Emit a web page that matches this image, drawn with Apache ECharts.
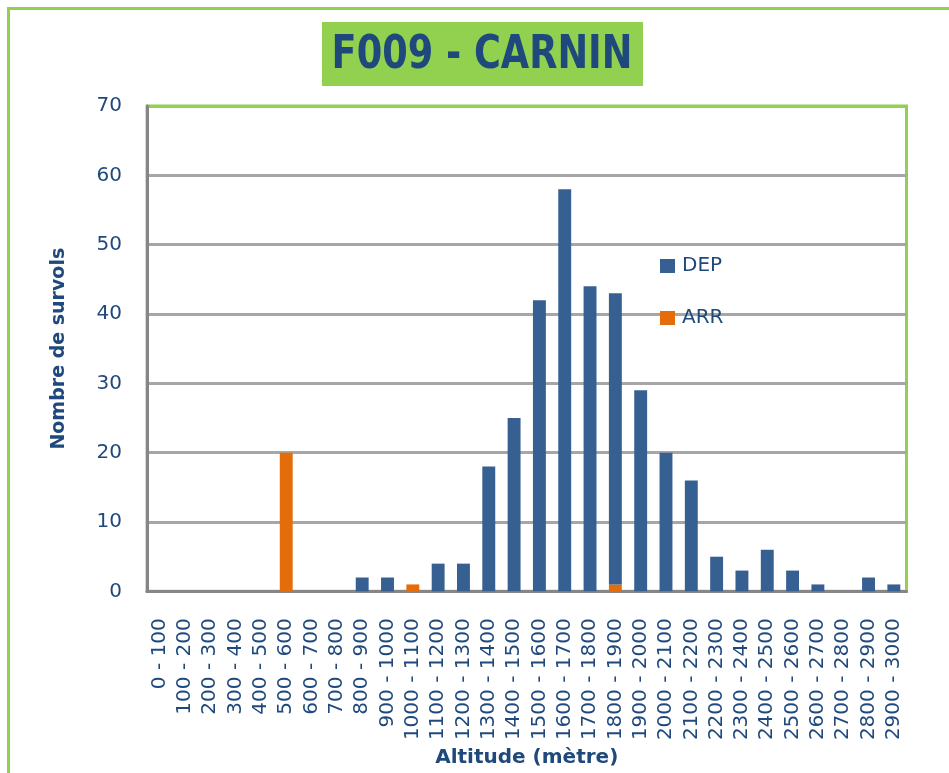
<!DOCTYPE html>
<html>
<head>
<meta charset="utf-8">
<title>F009 - CARNIN</title>
<script src="https://cdn.jsdelivr.net/npm/echarts@6/dist/echarts.min.js"></script>
<style>
  html, body {
    margin: 0;
    padding: 0;
    background: #ffffff;
  }

  #chart {
    width: 949px;
    height: 773px;
  }
</style>
</head>
<body>
<div id="chart"></div>

<script>
// tranches d'altitude
const categories = [
  "0 - 100", "100 - 200", "200 - 300", "300 - 400", "400 - 500",
  "500 - 600", "600 - 700", "700 - 800", "800 - 900", "900 - 1000",
  "1000 - 1100", "1100 - 1200", "1200 - 1300", "1300 - 1400", "1400 - 1500",
  "1500 - 1600", "1600 - 1700", "1700 - 1800", "1800 - 1900", "1900 - 2000",
  "2000 - 2100", "2100 - 2200", "2200 - 2300", "2300 - 2400", "2400 - 2500",
  "2500 - 2600", "2600 - 2700", "2700 - 2800", "2800 - 2900", "2900 - 3000",
];

// départs (empilés au-dessus des arrivées)
const depValues = [
  0, 0, 0, 0, 0, 0, 0, 0, 2, 2,
  0, 4, 4, 18, 25, 42, 58, 44, 42, 29,
  20, 16, 5, 3, 6, 3, 1, 0, 2, 1,
];

// arrivées
const arrValues = [
  0, 0, 0, 0, 0, 20, 0, 0, 0, 0,
  1, 0, 0, 0, 0, 0, 0, 0, 1, 0,
  0, 0, 0, 0, 0, 0, 0, 0, 0, 0,
];

const yTicks = [0, 10, 20, 30, 40, 50, 60, 70];

const textColor = "#1F497D";
const green = "#92D050";
const gridGray = "#A6A6A6";
const axisGray = "#868686";

const chart = echarts.init(document.getElementById("chart"));

chart.setOption({
  animation: false,
  textStyle: {
    fontFamily: "DejaVu Sans",
  },
  graphic: [
    {
      type: "rect",
      shape: { x: 8.5, y: 8.5, width: 1200, height: 1200 },
      style: { fill: "none", stroke: green, lineWidth: 3 },
      silent: true,
    },
    {
      type: "rect",
      shape: { x: 322, y: 22, width: 321, height: 64 },
      style: { fill: green },
      silent: true,
    },
    {
      type: "text",
      x: 482,
      y: 56,
      scaleX: 0.78,
      style: {
        text: "F009 - CARNIN",
        fill: textColor,
        font: "bold 47px 'DejaVu Sans'",
        align: "center",
        verticalAlign: "middle",
      },
      silent: true,
    },
  ],
  legend: {
    data: ["DEP", "ARR"],
    orient: "vertical",
    left: 660,
    top: 256,
    padding: 0,
    icon: "rect",
    itemWidth: 15,
    itemHeight: 14,
    itemGap: 32,
    textStyle: {
      color: textColor,
      fontSize: 20,
      fontFamily: "DejaVu Sans",
      padding: [0, 0, 0, 2],
    },
  },
  grid: {
    left: 147,
    top: 106,
    right: 42.5,
    bottom: 180.5,
    show: true,
    borderColor: green,
    borderWidth: 3,
    backgroundColor: "#ffffff",
  },
  xAxis: {
    type: "category",
    data: categories,
    name: "Altitude (mètre)",
    nameLocation: "middle",
    nameGap: 156,
    nameTextStyle: {
      color: textColor,
      fontSize: 20,
      fontWeight: "bold",
      fontFamily: "DejaVu Sans",
    },
    axisLine: {
      lineStyle: { color: axisGray, width: 3 },
    },
    axisTick: { show: false },
    axisLabel: {
      interval: 0,
      rotate: 90,
      margin: 27,
      color: textColor,
      fontSize: 20,
      fontFamily: "DejaVu Sans",
    },
  },
  yAxis: {
    type: "value",
    min: yTicks[0],
    max: yTicks[yTicks.length - 1],
    interval: 10,
    name: "Nombre de survols",
    nameLocation: "middle",
    nameGap: 78,
    nameTextStyle: {
      color: textColor,
      fontSize: 19,
      fontWeight: "bold",
      fontFamily: "DejaVu Sans",
    },
    axisLine: {
      show: true,
      lineStyle: { color: axisGray, width: 3 },
    },
    axisTick: { show: false },
    axisLabel: {
      margin: 25,
      color: textColor,
      fontSize: 20,
      fontFamily: "DejaVu Sans",
    },
    splitLine: {
      lineStyle: {
        // la ligne du haut reste verte comme le cadre
        color: [gridGray, gridGray, gridGray, gridGray, gridGray, gridGray, gridGray, green],
        width: 3,
      },
    },
  },
  series: [
    {
      name: "ARR",
      type: "bar",
      stack: "survols",
      data: arrValues,
      barWidth: "51%",
      itemStyle: { color: "#E46C0A" },
    },
    {
      name: "DEP",
      type: "bar",
      stack: "survols",
      data: depValues,
      barWidth: "51%",
      itemStyle: { color: "#366092" },
    },
  ],
});
</script>
</body>
</html>
